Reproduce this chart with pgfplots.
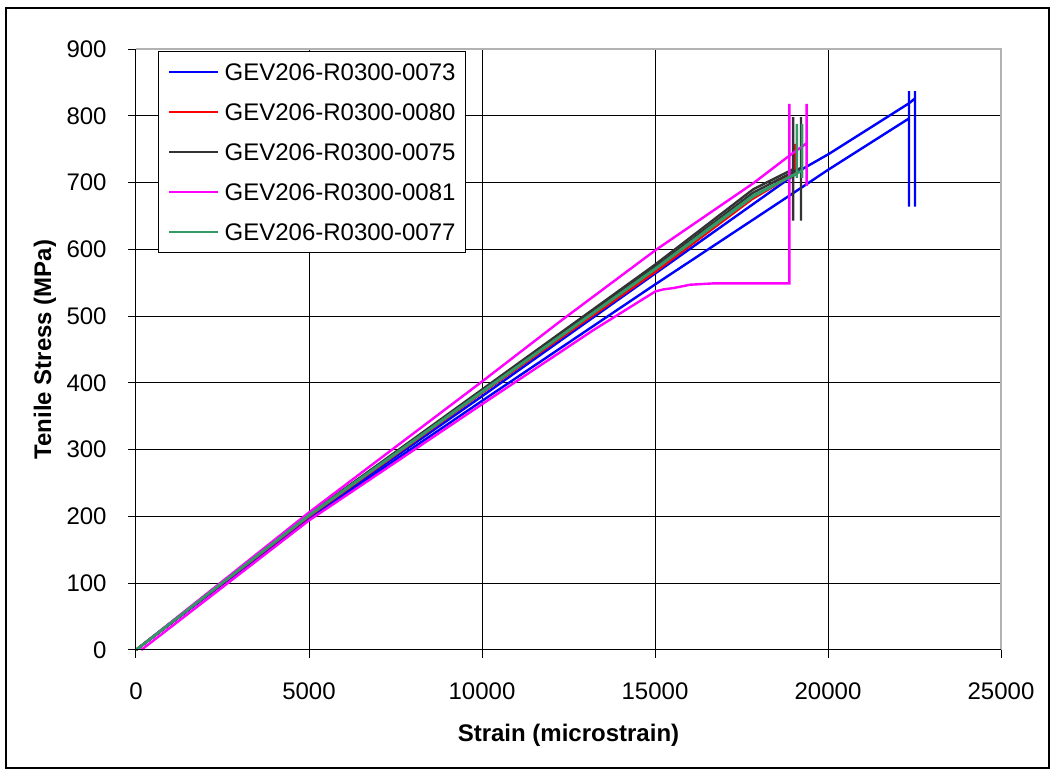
\documentclass[border=0pt]{standalone}
\usepackage{fontspec}
\setmainfont{Liberation Sans}
\usepackage{pgfplots}
\pgfplotsset{compat=1.18}
\definecolor{sblue}{RGB}{0,0,255}
\definecolor{sred}{RGB}{255,0,0}
\definecolor{sgray}{RGB}{51,51,51}
\definecolor{smag}{RGB}{255,0,255}
\definecolor{sgreen}{RGB}{51,153,102}
\begin{document}
\begin{tikzpicture}
\useasboundingbox (-68pt,-62.5pt) rectangle (460pt,325pt);
\draw[black, line width=0.7pt] (-65pt,-59pt) rectangle (456.5pt,321pt);
\begin{axis}[
  at={(0pt,0pt)}, anchor=south west,
  scale only axis, width=432.5pt, height=300.5pt,
  xmin=0, xmax=25000, ymin=0, ymax=900,
  xtick={0,5000,...,25000}, ytick={0,100,...,900},
  scaled ticks=false,
  /pgf/number format/1000 sep={},
  /pgf/number format/assume math mode=true,
  font=\fontsize{12}{14}\selectfont,
  tick label style={font=\fontsize{12}{14}\selectfont},
  grid=major, major grid style={black, line width=0.5pt},
  axis line style={draw=none},
  tick pos=left, tick align=outside, major tick length=4pt,
  tick style={black, line width=0.5pt},
  xticklabel style={anchor=center, inner sep=0pt, yshift=-16.5pt},
  yticklabel style={anchor=east, inner sep=0pt, xshift=-10.5pt},
  xlabel={\bfseries Strain (microstrain)},
  ylabel={\bfseries Tenile Stress (MPa)},
  xlabel style={at={(axis description cs:0.5,0)}, anchor=center, yshift=-42.5pt},
  ylabel style={at={(axis description cs:-0.1052,0.5)}, anchor=center, rotate=0},
  clip=false,
  legend cell align=left,
  legend image code/.code={\draw[#1, line width=0.6pt] (0pt,0pt) -- (24.5pt,0pt);},
  legend style={at={(rel axis cs:0.0254,0.9967)}, anchor=north west,
    draw=black, line width=0.5pt, fill=white,
    inner xsep=5pt, inner ysep=6pt,
    nodes={inner sep=0pt, text height=8.6pt, text depth=0pt, font=\fontsize{12}{14}\selectfont},
    row sep=11.4pt,
    /tikz/every odd column/.append style={column sep=3pt}},
]
% GEV206-R0300-0073 (blue)
\addplot[sblue, line width=1.2pt] coordinates {(0,0) (5000,197) (10000,373) (15020,548) (18902,681) (20000,719) (22340,796) (22340,837) (22340,664)};
\addlegendentry{GEV206-R0300-0073}
\addplot[sblue, line width=1.2pt, forget plot] coordinates {(0,0) (5000,199) (10000,380) (15010,564) (19286,721) (20029,743) (22350,819) (22514,826) (22514,837) (22514,664)};
% GEV206-R0300-0080 (red)
\addplot[sred, line width=1.2pt] coordinates {(0,0) (5000,201) (10000,386) (15000,567) (17800,676) (19050,716) (19050,758) (19050,710)};
\addlegendentry{GEV206-R0300-0080}
\addplot[sred, line width=1.2pt, forget plot] coordinates {(0,0) (5000,200) (10000,385) (15000,566) (17800,675) (19000,712)};
% GEV206-R0300-0075 (dark grey)
\addplot[sgray, line width=1.2pt] coordinates {(0,0) (5000,203) (10000,390) (15000,577) (17841,690) (18990,720) (18990,798) (18990,643)};
\addlegendentry{GEV206-R0300-0075}
\addplot[sgray, line width=1.2pt, forget plot] coordinates {(0,0) (5000,202) (10000,388) (15000,573) (17841,685) (19220,722) (19220,798) (19220,643)};
% GEV206-R0300-0081 (magenta)
\addplot[smag, line width=1.2pt] coordinates {(0,0) (5000,206) (10000,402) (12254,492) (15020,599) (17841,699) (18902,741) (19384,759) (19384,818) (19384,695)};
\addlegendentry{GEV206-R0300-0081}
\addplot[smag, line width=1.2pt, forget plot] coordinates {(150,0) (5000,194) (10000,368) (13217,479) (15010,537) (15241,540) (15530,542) (16011,547) (16685,549) (18882,549) (18882,818)};
% GEV206-R0300-0077 (green)
\addplot[sgreen, line width=1.2pt] coordinates {(0,0) (5000,202) (10000,387) (15000,571) (17841,681) (19100,714) (19100,788) (19100,707)};
\addlegendentry{GEV206-R0300-0077}
\addplot[sgreen, line width=1.2pt, forget plot] coordinates {(0,0) (5000,201) (10000,386) (15000,570) (17841,679) (19250,718) (19250,788) (19250,707)};
% plot-area border
\draw[gray!60, line width=0.8pt] (rel axis cs:0,1) -- (rel axis cs:1,1) -- (rel axis cs:1,0);
\draw[black, line width=0.5pt] (rel axis cs:0,1) -- (rel axis cs:0,0) -- (rel axis cs:1,0);
\end{axis}
\end{tikzpicture}
\end{document}
